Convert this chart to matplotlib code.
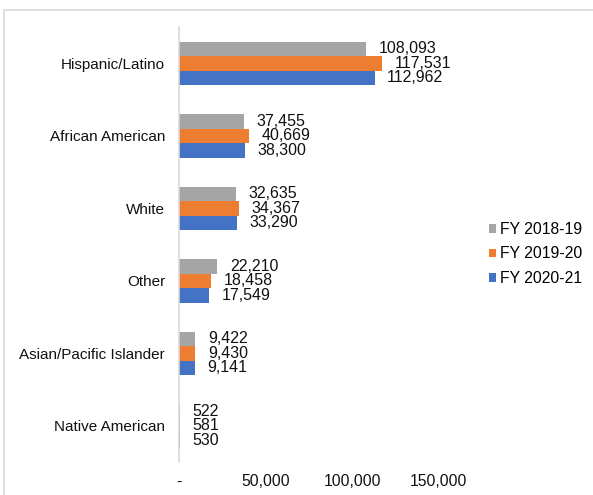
import numpy as np
import matplotlib.pyplot as plt
from matplotlib.patches import Rectangle

categories = ['Hispanic/Latino', 'African American', 'White', 'Other',
              'Asian/Pacific Islander', 'Native American']
fy1819 = [108093, 37455, 32635, 22210, 9422, 522]
fy1920 = [117531, 40669, 34367, 18458, 9430, 581]
fy2021 = [112962, 38300, 33290, 17549, 9141, 530]
series_names = ['FY 2018-19', 'FY 2019-20', 'FY 2020-21']
xticks = [0, 50000, 100000, 150000]
xtick_labels = ['-', '50,000', '100,000', '150,000']

colors = ['#A5A5A5', '#ED7D31', '#4472C4']
plt.rcParams['font.family'] = ['Liberation Sans', 'DejaVu Sans']

W, H = 593, 495
fig = plt.figure(figsize=(W / 100, H / 100), dpi=100)
ax = fig.add_axes([179 / W, 1 - 462 / H, (482 - 179) / W, 435 / H])

# outer chart border (only left and top edges visible)
fig.patches.append(Rectangle((3.5 / W, -1), 2, 2 - 9.5 / H, transform=fig.transFigure,
                             fill=False, edgecolor='#D9D9D9', linewidth=1.2))

y = np.arange(len(categories))
h = 0.2
for k, vals in enumerate([fy1819, fy1920, fy2021]):
    pos = y + (k - 1) * h
    ax.barh(pos, vals, height=h, color=colors[k], label=series_names[k])
    for p, v in zip(pos, vals):
        ax.annotate(f'{v:,}', (v, p), xytext=(9, 0), textcoords='offset points',
                    va='center', ha='left', fontsize=11.5, color='#111111')

ax.set_ylim(len(categories) - 0.5, -0.5)
ax.set_xlim(0, 175000)
ax.set_yticks(y)
ax.set_yticklabels(categories, fontsize=11, color='#111111')
ax.set_xticks(xticks)
ax.set_xticklabels(xtick_labels, fontsize=11.3, color='#111111')
ax.tick_params(length=0, axis='y', pad=10)
ax.tick_params(length=0, axis='x', pad=9)
for s in ['top', 'right', 'bottom']:
    ax.spines[s].set_visible(False)
ax.spines['left'].set_color('#D9D9D9')
ax.spines['left'].set_linewidth(1.2)

fig.legend(loc='center left', bbox_to_anchor=(489 / W, 1 - 254 / H), frameon=False,
           fontsize=11.3, handlelength=0.45, handleheight=0.45, handletextpad=0.25,
           labelspacing=0.6, borderaxespad=0, borderpad=0)

fig.savefig('out.png', dpi=100)
